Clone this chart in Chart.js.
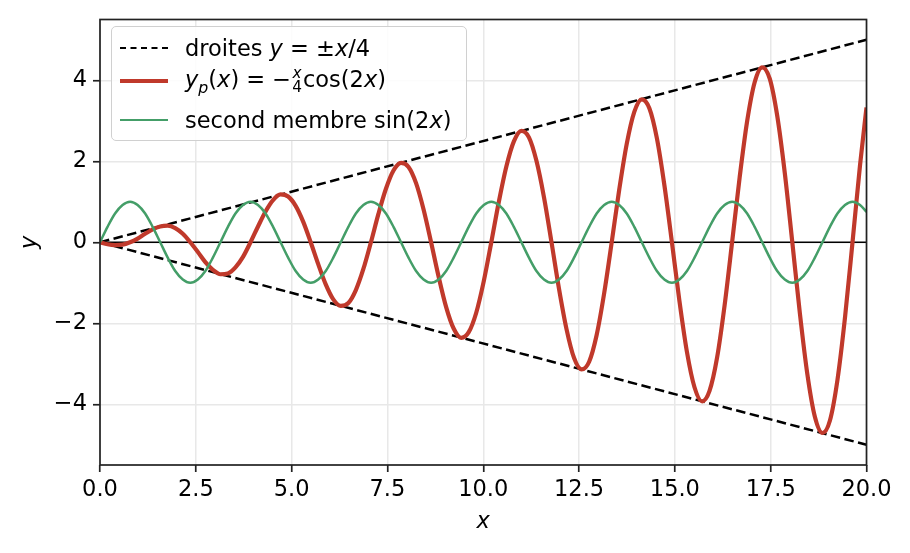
<!DOCTYPE html>
<html>
<head>
<meta charset="utf-8">
<script src="https://cdn.jsdelivr.net/npm/chart.js@4"></script>
<style>
  body { margin: 0; background: #fff; }
  #wrap { position: relative; width: 910px; height: 553px; }
  #legend {
    position: absolute; left: 111px; top: 26px; width: 354px; height: 113px;
    border: 1.5px solid #d0d0d0; border-radius: 5px; background: rgba(255,255,255,0.85);
    font-family: "DejaVu Sans"; font-size: 22.5px; color: #000;
  }
  #legend .row { position: absolute; left: 0; height: 30px; display: flex; align-items: center; white-space: nowrap; }
  #legend .h { position: absolute; left: 8px; width: 48px; height: 0; }
  #legend .t { position: absolute; left: 73px; }
  .frac { display: inline-block; vertical-align: middle; font-size: 0.68em; line-height: 0.95; text-align: center; margin: 0 1px; }
  .frac span { display: block; }
  sub { font-size: 0.7em; }
</style>
</head>
<body>
<div id="wrap">
  <canvas id="c"></canvas>
  <div id="legend">
    <div class="row" style="top:6px"><span class="h" style="border-top:2.5px dashed #000"></span><span class="t">droites <i>y</i> = ±<i>x</i>/4</span></div>
    <div class="row" style="top:39px"><span class="h" style="border-top:4px solid #c0392b"></span><span class="t"><i>y<sub>p</sub></i>(<i>x</i>) = −<span class="frac"><span><i>x</i></span><span>4</span></span>cos(2<i>x</i>)</span></div>
    <div class="row" style="top:78px"><span class="h" style="border-top:2.5px solid #449e68"></span><span class="t">second membre sin(2<i>x</i>)</span></div>
  </div>
</div>
<script>
// Particular solution y_p(x) = -x/4 cos(2x) with its envelope and the forcing term

const xs = [0, 0.196, 0.393, 0.589, 0.785, 0.982, 1.178, 1.374, 1.571, 1.767, 1.963, 2.160, 2.356, 2.553, 2.749, 2.945,
  3.142, 3.338, 3.534, 3.731, 3.927, 4.123, 4.320, 4.516, 4.712, 4.909, 5.105, 5.301, 5.498, 5.694, 5.890, 6.087,
  6.283, 6.480, 6.676, 6.872, 7.069, 7.265, 7.461, 7.658, 7.854, 8.050, 8.247, 8.443, 8.639, 8.836, 9.032, 9.228,
  9.425, 9.621, 9.817, 10.014, 10.210, 10.407, 10.603, 10.799, 10.996, 11.192, 11.388, 11.585, 11.781, 11.977, 12.174, 12.370,
  12.566, 12.763, 12.959, 13.155, 13.352, 13.548, 13.744, 13.941, 14.137, 14.334, 14.530, 14.726, 14.923, 15.119, 15.315, 15.512,
  15.708, 15.904, 16.101, 16.297, 16.493, 16.690, 16.886, 17.082, 17.279, 17.475, 17.671, 17.868, 18.064, 18.261, 18.457, 18.653,
  18.850, 19.046, 19.242, 19.439, 19.635, 19.831, 20.0];

const yp = [0, -0.05, -0.07, -0.06, 0, 0.09, 0.21, 0.32, 0.39, 0.41, 0.35, 0.21, 0, -0.24, -0.49, -0.68,
  -0.79, -0.77, -0.62, -0.36, 0, 0.39, 0.76, 1.04, 1.18, 1.13, 0.90, 0.51, 0, -0.54, -1.04, -1.41,
  -1.57, -1.50, -1.18, -0.66, 0, 0.70, 1.32, 1.77, 1.96, 1.86, 1.46, 0.81, 0, -0.85, -1.60, -2.13,
  -2.36, -2.22, -1.74, -0.96, 0, 1.00, 1.87, 2.49, 2.75, 2.59, 2.01, 1.11, 0, -1.15, -2.15, -2.86,
  -3.14, -2.95, -2.29, -1.26, 0, 1.30, 2.43, 3.22, 3.53, 3.31, 2.57, 1.41, 0, -1.45, -2.71, -3.58,
  -3.93, -3.67, -2.85, -1.56, 0, 1.60, 2.99, 3.95, 4.32, 4.04, 3.12, 1.71, 0, -1.75, -3.26, -4.31,
  -4.71, -4.40, -3.40, -1.86, 0, 1.90, 3.33];

const forcing = [0, 0.38, 0.71, 0.92, 1, 0.92, 0.71, 0.38, 0, -0.38, -0.71, -0.92, -1, -0.92, -0.71, -0.38,
  0, 0.38, 0.71, 0.92, 1, 0.92, 0.71, 0.38, 0, -0.38, -0.71, -0.92, -1, -0.92, -0.71, -0.38,
  0, 0.38, 0.71, 0.92, 1, 0.92, 0.71, 0.38, 0, -0.38, -0.71, -0.92, -1, -0.92, -0.71, -0.38,
  0, 0.38, 0.71, 0.92, 1, 0.92, 0.71, 0.38, 0, -0.38, -0.71, -0.92, -1, -0.92, -0.71, -0.38,
  0, 0.38, 0.71, 0.92, 1, 0.92, 0.71, 0.38, 0, -0.38, -0.71, -0.92, -1, -0.92, -0.71, -0.38,
  0, 0.38, 0.71, 0.92, 1, 0.92, 0.71, 0.38, 0, -0.38, -0.71, -0.92, -1, -0.92, -0.71, -0.38,
  0, 0.38, 0.71, 0.92, 1, 0.92, 0.75];

const envX = [0, 20];
const envUp = [0, 5];
const envDown = [0, -5];
const zeroLine = [0, 0];

const xTicks = [0, 2.5, 5, 7.5, 10, 12.5, 15, 17.5, 20];
const yTicks = [-4, -2, 0, 2, 4];

const pts = (xv, yv) => xv.map((x, i) => ({ x: x, y: yv[i] }));

Chart.defaults.font.family = "DejaVu Sans";
Chart.defaults.font.size = 22.5;
Chart.defaults.color = "#000";

const frame = {
  id: "frame",
  afterDatasetsDraw(chart) {
    const a = chart.chartArea, ctx = chart.ctx;
    ctx.save();
    ctx.strokeStyle = "#222";
    ctx.lineWidth = 1.7;
    ctx.strokeRect(a.left, a.top, a.right - a.left, a.bottom - a.top);
    ctx.restore();
  }
};

new Chart(document.getElementById("c"), {
  type: "line",
  data: {
    datasets: [
      { data: pts(envX, envUp), borderColor: "#000", borderWidth: 2.5, borderDash: [9.5, 4.5], order: 3 },
      { data: pts(envX, envDown), borderColor: "#000", borderWidth: 2.5, borderDash: [9.5, 4.5], order: 3 },
      { data: pts(envX, zeroLine), borderColor: "#000", borderWidth: 1.7, order: 4 },
      { data: pts(xs, yp), borderColor: "#c0392b", borderWidth: 4.2, cubicInterpolationMode: "monotone", order: 2 },
      { data: pts(xs, forcing), borderColor: "#449e68", borderWidth: 2.5, cubicInterpolationMode: "monotone", order: 1 }
    ]
  },
  options: {
    animation: false,
    responsive: true,
    maintainAspectRatio: false,
    events: [],
    elements: { point: { radius: 0 } },
    layout: { padding: { top: 15, right: 43.5, left: 0, bottom: 0 } },
    plugins: {
      legend: { display: false },
      tooltip: { enabled: false }
    },
    scales: {
      x: {
        type: "linear",
        min: 0,
        max: 20,
        afterBuildTicks: s => { s.ticks = xTicks.map(v => ({ value: v })); },
        afterFit: s => { s.height = 88; },
        grid: { color: "#e8e8e8", lineWidth: 1.5, tickLength: 7, tickColor: "#222", tickWidth: 1.7 },
        border: { display: false },
        ticks: { padding: 5, maxRotation: 0, callback: v => v.toFixed(1) },
        title: { display: true, text: "x", font: { style: "italic" }, padding: { top: 0, bottom: 17 } }
      },
      y: {
        min: -5.5,
        max: 5.5,
        afterBuildTicks: s => { s.ticks = yTicks.map(v => ({ value: v })); },
        afterFit: s => { s.width = 100; },
        grid: { color: "#e8e8e8", lineWidth: 1.5, tickLength: 7, tickColor: "#222", tickWidth: 1.7 },
        border: { display: false },
        ticks: { padding: 6, callback: v => (v < 0 ? "\u2212" + Math.abs(v) : String(v)) },
        title: { display: true, text: "y", font: { style: "italic" }, padding: { top: 17, bottom: 0 } }
      }
    }
  },
  plugins: [frame]
});
</script>
</body>
</html>
